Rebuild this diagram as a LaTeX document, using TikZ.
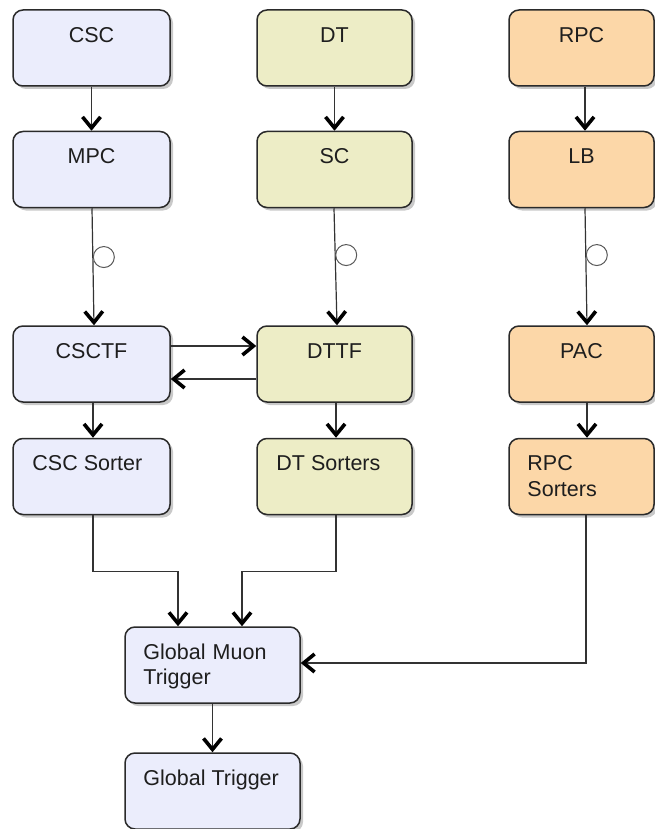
\documentclass[tikz,border=0pt]{standalone}
\usepackage{fontspec}
\setmainfont{Liberation Sans}
\usetikzlibrary{arrows.meta,shadows,calc}
\definecolor{bfill}{HTML}{EBEDFC}
\definecolor{gfill}{HTML}{EDEDC6}
\definecolor{ofill}{HTML}{FCD7A8}
\definecolor{edge}{HTML}{2A2A2A}
\definecolor{wire}{HTML}{333333}
\definecolor{txt}{HTML}{1E1E1E}
\tikzset{
  box/.style={draw=edge, line width=1.5pt, rounded corners=10pt, inner sep=0pt,
    minimum height=76pt,
    drop shadow={shadow xshift=3pt, shadow yshift=-3pt, opacity=0.3, fill=black!70}},
  bbox/.style={box, fill=bfill},
  gbox/.style={box, fill=gfill},
  obox/.style={box, fill=ofill},
  lbl/.style={inner sep=0pt, text=txt, font=\fontsize{21.5}{25.5}\selectfont},
  mlbl/.style={lbl, align=left, text width=140pt},
  arr/.style={draw=wire, line width=1.2pt,
    -{Straight Barb[length=11pt, width=18pt, line width=3.6pt, color=black]}},
  circ/.style={circle, draw=black!65, line width=1pt, fill=white, minimum size=21pt, inner sep=0pt}
}
\begin{document}
\begin{tikzpicture}[x=1pt,y=-1pt]
\useasboundingbox (0,0) rectangle (655,829);
% column 1
\node[bbox, minimum width=157pt] (csc) at (91.5,48) {};
\node[bbox, minimum width=157pt] (mpc) at (91.5,169.5) {};
\node[bbox, minimum width=157pt] (csctf) at (91.5,364) {};
\node[bbox, minimum width=157pt] (cscs) at (91.5,476.5) {};
% column 2
\node[gbox, minimum width=155pt] (dt) at (334.5,48) {};
\node[gbox, minimum width=155pt] (sc) at (334.5,169.5) {};
\node[gbox, minimum width=155pt] (dttf) at (334.5,364) {};
\node[gbox, minimum width=155pt] (dts) at (334.5,476.5) {};
% column 3
\node[obox, minimum width=145pt] (rpc) at (581.5,48) {};
\node[obox, minimum width=145pt] (lb) at (581.5,169.5) {};
\node[obox, minimum width=145pt] (pac) at (581.5,364) {};
\node[obox, minimum width=145pt] (rpcs) at (581.5,476.5) {};
% global
\node[bbox, minimum width=175pt] (gmt) at (212.5,665) {};
\node[bbox, minimum width=175pt] (gt) at (212.5,791) {};

% labels
\node[lbl, anchor=base] (tcsc) at ($(csc.north)+(0,33)$) {CSC};
\node[lbl, anchor=base] (tmpc) at ($(mpc.north)+(0,33)$) {MPC};
\node[lbl, anchor=base] (tcsctf) at ($(csctf.north)+(0,33)$) {CSCTF};
\node[lbl, anchor=base west] (tcscs) at ($(cscs.north west)+(20,33)$) {CSC Sorter};
\node[lbl, anchor=base] (tdt) at ($(dt.north)+(0,33)$) {DT};
\node[lbl, anchor=base] (tsc) at ($(sc.north)+(0,33)$) {SC};
\node[lbl, anchor=base] (tdttf) at ($(dttf.north)+(0,33)$) {DTTF};
\node[lbl, anchor=base west] (tdts) at ($(dts.north west)+(20,33)$) {DT Sorters};
\node[lbl, anchor=base] (trpc) at ($(rpc.north)+(0,33)$) {RPC};
\node[lbl, anchor=base] (tlb) at ($(lb.north)+(0,33)$) {LB};
\node[lbl, anchor=base] (tpac) at ($(pac.north)+(0,33)$) {PAC};
\node[mlbl, anchor=base west] (trpcs) at ($(rpcs.north west)+(19,33)$) {RPC\\Sorters};
\node[mlbl, anchor=base west] (tgmt) at ($(gmt.north west)+(19,33)$) {Global Muon\\Trigger};
\node[lbl, anchor=base west] (tgt) at ($(gt.north west)+(19,33)$) {Global Trigger};

% connectors
\draw[arr] (csc) -- (mpc);
\draw[arr] (dt) -- (sc);
\draw[arr] ($(rpc.south)+(3.5,0)$) -- ($(lb.north)+(3.5,0)$);

\draw[arr] ($(mpc.south)+(0.5,0)$) -- node[circ, pos=0.417, anchor=west] (c1) {} ($(csctf.north)+(2.5,0)$);
\draw[arr] ($(sc.south)+(-0.5,0)$) -- node[circ, pos=0.4, anchor=west] (c2) {} ($(dttf.north)+(2.5,0)$);
\draw[arr] ($(lb.south)+(3.5,0)$) -- node[circ, pos=0.4, anchor=west] (c3) {} ($(pac.north)+(5.5,0)$);

\draw[arr] ($(csctf.east)+(0,-18)$) -- ($(dttf.west)+(0,-18)$);
\draw[arr] ($(dttf.west)+(0,15)$) -- ($(csctf.east)+(0,15)$);

\draw[arr] ($(csctf.south)+(1.5,0)$) -- ($(cscs.north)+(1.5,0)$);
\draw[arr] ($(dttf.south)+(1.5,0)$) -- ($(dts.north)+(1.5,0)$);
\draw[arr] ($(pac.south)+(5.5,0)$) -- ($(rpcs.north)+(5.5,0)$);

\draw[arr] ($(cscs.south)+(1.5,0)$) -- ++(0,56) -| ($(gmt.north)+(-34.5,0)$);
\draw[arr] ($(dts.south)+(1.5,0)$) -- ++(0,56) -| ($(gmt.north)+(29.5,0)$);
\draw[arr] ($(rpcs.south)+(4.5,0)$) |- ($(gmt.east)+(0,-2)$);
\draw[arr] (gmt) -- (gt);
\end{tikzpicture}
\end{document}
